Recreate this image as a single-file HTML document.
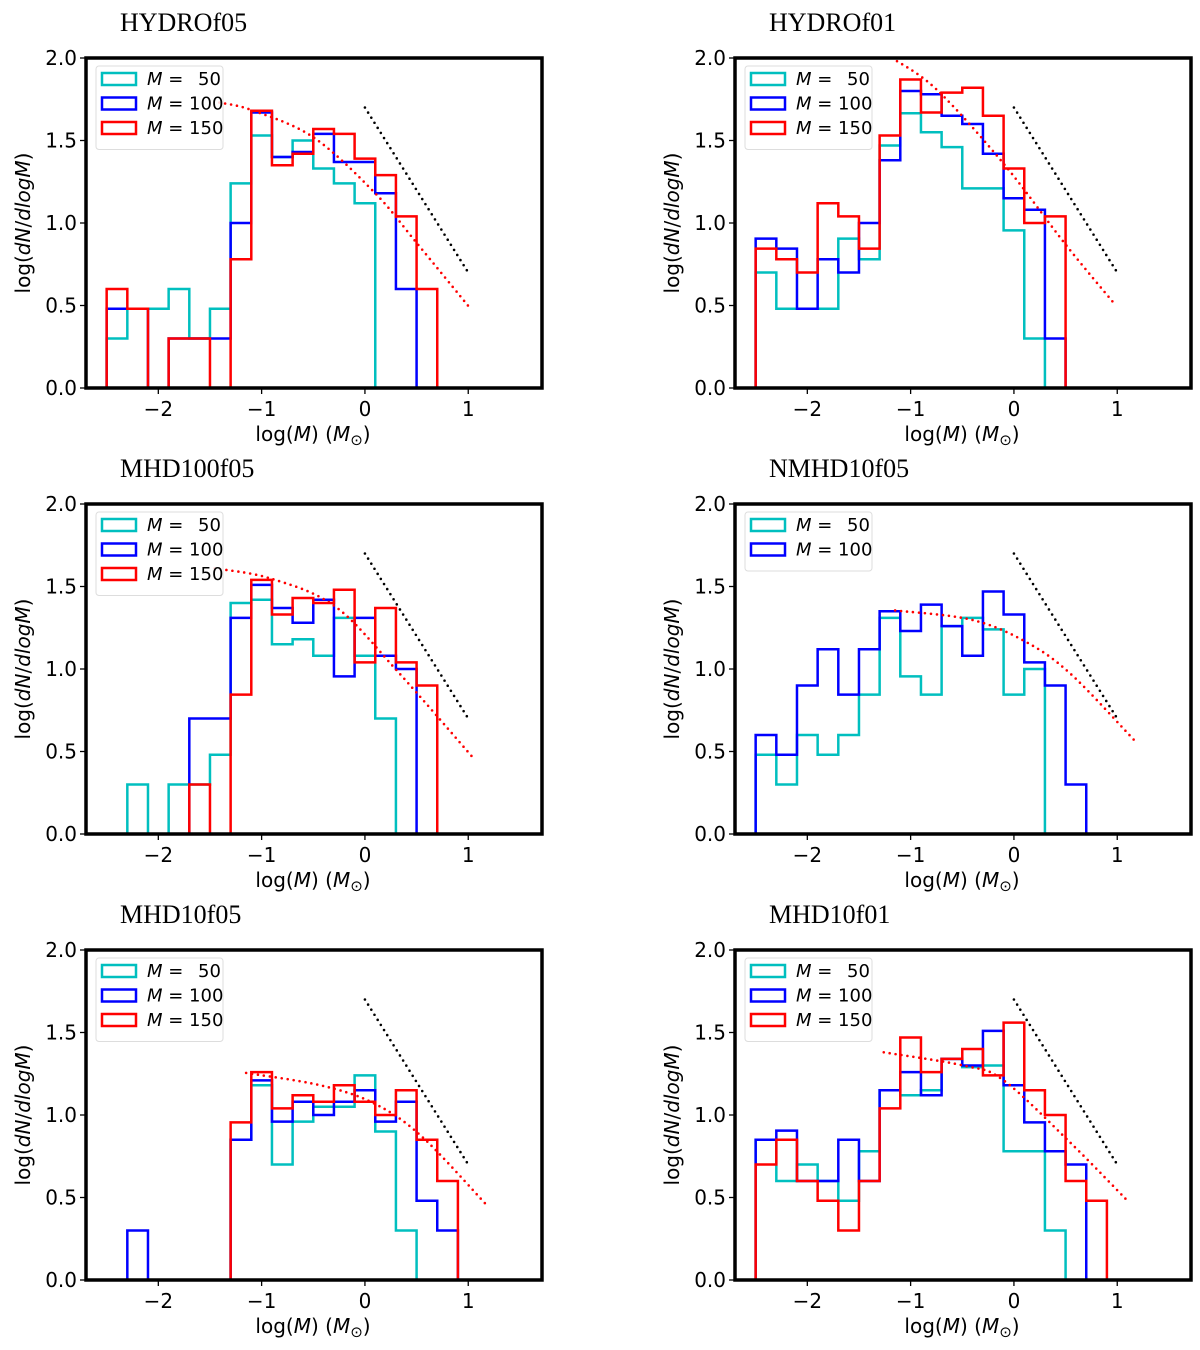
<!DOCTYPE html>
<html><head><meta charset="utf-8"><style>
html,body{margin:0;padding:0;background:#fff;}
svg text{font-family:"DejaVu Sans","Liberation Sans",sans-serif;}
</style></head><body>
<svg id="fig" xmlns="http://www.w3.org/2000/svg" width="1200" height="1345" viewBox="0 0 1200 1345"></svg>
<script>
// ---- data ----
const binStart = -2.5;
const binWidth = 0.2;
const xTicks = [-2, -1, 0, 1];
const yTicks = [0, 0.5, 1.0, 1.5, 2.0];
const yTickLabels = ["0.0", "0.5", "1.0", "1.5", "2.0"];
const seriesNames = ["M =  50", "M = 100", "M = 150"];
const titles = ["HYDROf05", "HYDROf01", "MHD100f05", "NMHD10f05", "MHD10f05", "MHD10f01"];
const refLineX = [0, 1];
const refLineY = [1.7, 0.7];

const p1_m50  = [0.30,0.48,0.48,0.60,0.30,0.48,1.24,1.53,1.40,1.50,1.33,1.24,1.12,0,0,0,0,0];
const p1_m100 = [0.48,0.48,0,0.30,0.30,0.30,1.00,1.67,1.40,1.43,1.54,1.37,1.37,1.18,0.60,0,0,0];
const p1_m150 = [0.60,0.48,0,0.30,0.30,0,0.78,1.68,1.35,1.42,1.57,1.54,1.39,1.29,1.04,0.60,0,0];
const p2_m50  = [0.70,0.48,0.48,0.48,0.905,0.78,1.47,1.665,1.55,1.46,1.21,1.21,0.955,0.30,0,0,0,0];
const p2_m100 = [0.905,0.845,0.48,0.78,0.70,1.00,1.38,1.80,1.78,1.65,1.60,1.42,1.15,1.08,0.30,0,0,0];
const p2_m150 = [0.845,0.78,0.70,1.12,1.04,0.845,1.53,1.87,1.67,1.79,1.82,1.65,1.33,1.00,1.04,0,0,0];
const p3_m50  = [0,0.30,0,0.30,0.30,0.48,1.40,1.42,1.15,1.18,1.08,1.31,1.08,0.70,0,0,0,0];
const p3_m100 = [0,0,0,0,0.70,0.70,1.31,1.51,1.37,1.28,1.42,0.955,1.31,1.08,1.00,0,0,0];
const p3_m150 = [0,0,0,0,0.30,0,0.845,1.54,1.33,1.43,1.40,1.48,1.04,1.37,1.04,0.90,0,0];
const p4_m50  = [0.48,0.30,0.60,0.48,0.60,0.845,1.31,0.955,0.845,1.26,1.31,1.24,0.845,1.00,0,0,0,0];
const p4_m100 = [0.60,0.48,0.90,1.12,0.845,1.12,1.35,1.23,1.39,1.26,1.08,1.47,1.33,1.04,0.90,0.30,0,0];
const p5_m50  = [0,0,0,0,0,0,0.85,1.18,0.70,0.96,1.05,1.05,1.24,0.90,0.30,0,0,0];
const p5_m100 = [0,0.30,0,0,0,0,0.85,1.21,0.96,1.08,1.00,1.08,1.15,0.96,1.08,0.48,0.30,0];
const p5_m150 = [0,0,0,0,0,0,0.955,1.26,1.04,1.12,1.08,1.18,1.08,1.00,1.15,0.85,0.60,0];
const p6_m50  = [0.85,0.60,0.70,0.60,0.48,0.78,1.15,1.12,1.15,1.34,1.29,1.30,0.78,0.78,0.30,0,0,0];
const p6_m100 = [0.85,0.905,0.60,0.60,0.85,0.60,1.15,1.26,1.12,1.34,1.30,1.51,1.18,0.955,0.78,0.70,0,0];
const p6_m150 = [0.70,0.85,0.60,0.48,0.30,0.60,1.04,1.47,1.26,1.34,1.40,1.24,1.56,1.15,1.00,0.60,0.48,0];

const p1_fitX = [-1.41,-1.1,-0.5,0.1,0.5,1.01];   const p1_fitY = [1.73,1.685,1.52,1.18,0.88,0.49];
const p2_fitX = [-1.18,-0.75,-0.1,0.5,0.96];      const p2_fitY = [2.0,1.81,1.36,0.87,0.52];
const p3_fitX = [-1.455,-0.92,-0.29,0.31,1.05];   const p3_fitY = [1.61,1.55,1.38,0.99,0.46];
const p4_fitX = [-1.15,-0.42,0.1,0.55,1.17];      const p4_fitY = [1.355,1.30,1.17,0.97,0.565];
const p5_fitX = [-1.15,-0.43,0.09,0.55,1.17];     const p5_fitY = [1.255,1.18,1.07,0.87,0.46];
const p6_fitX = [-1.26,-0.49,-0.1,0.55,1.1];      const p6_fitY = [1.38,1.30,1.21,0.83,0.48];

// ---- drawing ----
const NS = "http://www.w3.org/2000/svg";
const svg = document.getElementById("fig");
const colors = ["#00bfbf", "#0000ff", "#ff0000"];
const X_MIN = -2.70, X_MAX = 1.714, Y_MIN = 0, Y_MAX = 2;
const W = 456, H = 330;

function mk(tag, attrs, parent) {
  const e = document.createElementNS(NS, tag);
  for (const k in attrs) e.setAttribute(k, attrs[k]);
  (parent || svg).appendChild(e);
  return e;
}

const panels = [
  {x0:86,  y0:58,  series:[p1_m50,p1_m100,p1_m150], fx:p1_fitX, fy:p1_fitY},
  {x0:735, y0:58,  series:[p2_m50,p2_m100,p2_m150], fx:p2_fitX, fy:p2_fitY},
  {x0:86,  y0:504, series:[p3_m50,p3_m100,p3_m150], fx:p3_fitX, fy:p3_fitY},
  {x0:735, y0:504, series:[p4_m50,p4_m100],         fx:p4_fitX, fy:p4_fitY},
  {x0:86,  y0:950, series:[p5_m50,p5_m100,p5_m150], fx:p5_fitX, fy:p5_fitY},
  {x0:735, y0:950, series:[p6_m50,p6_m100,p6_m150], fx:p6_fitX, fy:p6_fitY}
];

function smoothPath(pts) {
  let d = "M" + pts[0][0] + "," + pts[0][1];
  for (let i = 0; i < pts.length - 1; i++) {
    const p0 = pts[i-1] || pts[i], p1 = pts[i], p2 = pts[i+1], p3 = pts[i+2] || p2;
    const c1x = p1[0] + (p2[0]-p0[0])/6, c1y = p1[1] + (p2[1]-p0[1])/6;
    const c2x = p2[0] - (p3[0]-p1[0])/6, c2y = p2[1] - (p3[1]-p1[1])/6;
    d += " C" + c1x + "," + c1y + " " + c2x + "," + c2y + " " + p2[0] + "," + p2[1];
  }
  return d;
}

panels.forEach((p, pi) => {
  const g = mk("g", {});
  
  
  const sx = v => p.x0 + (v - X_MIN) / (X_MAX - X_MIN) * W;
  const sy = v => p.y0 + H - (v - Y_MIN) / (Y_MAX - Y_MIN) * H;

  const clipId = "clip" + pi;
  const cp = mk("clipPath", {id: clipId}, g);
  mk("rect", {x: p.x0, y: p.y0, width: W, height: H}, cp);
  const plot = mk("g", {"clip-path": "url(#" + clipId + ")"}, g);

  p.series.forEach((vals, si) => {
    let d = "";
    let started = false;
    vals.forEach((v, i) => {
      const xa = sx(binStart + i * binWidth), xb = sx(binStart + (i + 1) * binWidth);
      if (!started) { d += "M" + xa + "," + sy(0); started = true; }
      d += " L" + xa + "," + sy(v) + " L" + xb + "," + sy(v);
    });
    d += " L" + sx(binStart + vals.length * binWidth) + "," + sy(0);
    const path = mk("path", {d: d, fill: "none", stroke: colors[si], "stroke-width": 2.5, "stroke-linejoin": "miter"}, plot);
    
    
  });

  const fpts = p.fx.map((x, i) => [sx(x), sy(p.fy[i])]);
  const fit = mk("path", {d: smoothPath(fpts), fill: "none", stroke: "#ff0000", "stroke-width": 2.6, "stroke-dasharray": "0 6", "stroke-linecap": "round"}, plot);
  
  

  const ref = mk("line", {x1: sx(refLineX[0]), y1: sy(refLineY[0]), x2: sx(refLineX[1]), y2: sy(refLineY[1]), stroke: "#000", "stroke-width": 2.6, "stroke-dasharray": "0 6", "stroke-linecap": "round"}, plot);
  
  

  const frame = mk("rect", {x: p.x0, y: p.y0, width: W, height: H, fill: "none", stroke: "#000", "stroke-width": 3.5}, g);
  
  

  xTicks.forEach(t => {
    const x = sx(t);
    mk("line", {x1: x, y1: p.y0 + H, x2: x, y2: p.y0 + H + 6, stroke: "#000", "stroke-width": 1.3}, g);
    const tx = mk("text", {x: x, y: p.y0 + H + 28, "font-size": 20, "text-anchor": "middle", fill: "#000"}, g);
    tx.textContent = t < 0 ? "\u2212" + Math.abs(t) : String(t);
    
    
  });
  yTicks.forEach((t, i) => {
    const y = sy(t);
    mk("line", {x1: p.x0 - 6, y1: y, x2: p.x0, y2: y, stroke: "#000", "stroke-width": 1.3}, g);
    const ty = mk("text", {x: p.x0 - 9, y: y + 7, "font-size": 20, "text-anchor": "end", fill: "#000"}, g);
    ty.textContent = yTickLabels[i];
    
    
  });

  const xl = mk("text", {x: p.x0 + 227, y: p.y0 + H + 53, "font-size": 20, "text-anchor": "middle", fill: "#000"}, g);
  xl.innerHTML = 'log(<tspan font-style="italic">M</tspan>) (<tspan font-style="italic">M</tspan><tspan font-size="15" dy="4">\u2299</tspan><tspan dy="-4">)</tspan>';
  
  

  const yl = mk("text", {x: 0, y: 0, "font-size": 20, "text-anchor": "middle", fill: "#000", transform: "translate(" + (p.x0 - 56) + "," + (p.y0 + H/2) + ") rotate(-90)"}, g);
  yl.innerHTML = 'log(<tspan font-style="italic">dN</tspan>/<tspan font-style="italic">dlogM</tspan>)';
  
  

  const tt = mk("text", {x: p.x0 + 34, y: p.y0 - 27, "font-size": 26, fill: "#000", style: "font-family:'Liberation Serif',serif"}, g);
  tt.textContent = titles[pi];
  
  

  const n = p.series.length;
  const lg = mk("g", {}, g);
  
  
  mk("rect", {x: p.x0 + 10, y: p.y0 + 8, width: 127, height: 10 + n * 24.5, rx: 3, fill: "#fff", "fill-opacity": 0.85, stroke: "#ddd", "stroke-width": 1}, lg);
  for (let si = 0; si < n; si++) {
    const cy = p.y0 + 21 + si * 24.5;
    const ent = mk("g", {}, lg);
    
    
    mk("rect", {x: p.x0 + 16, y: cy - 6, width: 34, height: 12, fill: "none", stroke: colors[si], "stroke-width": 2.5}, ent);
    const lt = mk("text", {x: p.x0 + 61, y: cy + 6, "font-size": 18, fill: "#000"}, ent);
    const parts = seriesNames[si].split(" = ");
    lt.innerHTML = '<tspan font-style="italic">' + parts[0] + '</tspan> = ' + parts[1].replace(/^ /, '\u2002');
  }
});
</script>
</body></html>
